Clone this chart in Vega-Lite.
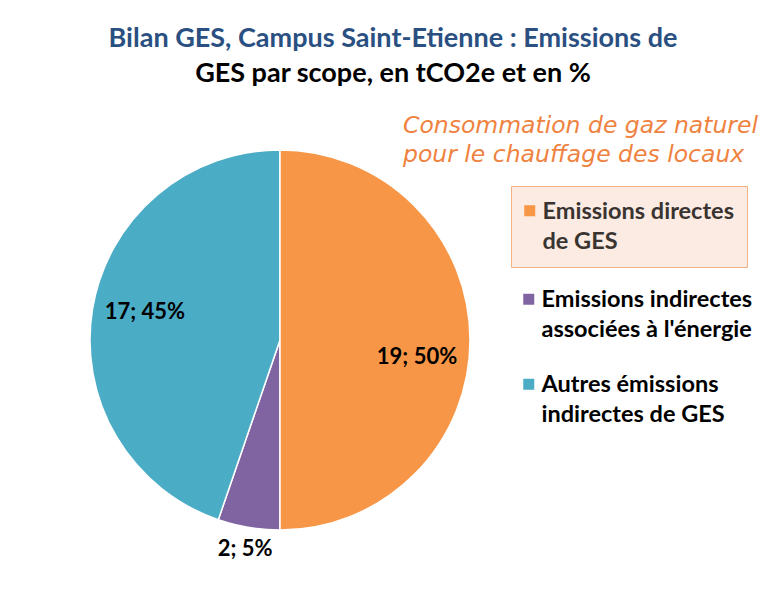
{
  "$schema": "https://vega.github.io/schema/vega-lite/v6.json",
  "width": 380,
  "height": 380,
  "autosize": {"type": "none"},
  "padding": {"left": 90, "top": 150, "right": 305, "bottom": 78},
  "background": "white",
  "title": {
    "text": "Bilan GES, Campus Saint-Etienne : Emissions de",
    "subtitle": "GES par scope, en tCO2e et en %",
    "font": "Lato",
    "fontSize": 27,
    "fontWeight": "bold",
    "color": "#2A5082",
    "subtitleFont": "Lato",
    "subtitleFontSize": 27,
    "subtitleFontWeight": "bold",
    "subtitleColor": "#000000",
    "subtitlePadding": 8,
    "anchor": "middle",
    "dx": 113,
    "offset": 26
  },
  "data": {
    "values": [
      {"scope": "Emissions directes de GES", "value": 19, "label": "19; 50%", "idx": 1},
      {"scope": "Emissions indirectes associées à l'énergie", "value": 2, "label": "2; 5%", "idx": 2},
      {"scope": "Autres émissions indirectes de GES", "value": 17, "label": "17; 45%", "idx": 3}
    ]
  },
  "layer": [
    {
      "mark": {"type": "arc", "stroke": "white", "strokeWidth": 1.5},
      "encoding": {
        "theta": {"field": "value", "type": "quantitative", "stack": true},
        "order": {"field": "idx", "type": "quantitative"},
        "color": {
          "field": "scope",
          "type": "nominal",
          "scale": {
            "domain": ["Emissions directes de GES", "Emissions indirectes associées à l'énergie", "Autres émissions indirectes de GES"],
            "range": ["#F79646", "#8064A2", "#4BACC6"]
          },
          "legend": {
            "values": ["Emissions indirectes associées à l'énergie", "Autres émissions indirectes de GES"],
            "orient": "none",
            "legendX": 313,
            "legendY": -36,
            "title": ["Consommation de gaz naturel", "pour le chauffage des locaux"],
            "titleFont": "DejaVu Sans",
            "titleFontStyle": "italic",
            "titleFontWeight": 200,
            "titleFontSize": 23.5,
            "titleColor": "#EF8240",
            "titleLineHeight": 29,
            "titleLimit": 500,
            "titlePadding": 121,
            "symbolType": "square",
            "symbolSize": 121,
            "symbolStrokeWidth": 0,
            "symbolOpacity": 1,
            "symbolOffset": 114,
            "labelFont": "Lato",
            "labelFontSize": 23.5,
            "labelFontWeight": "bold",
            "labelColor": "#000000",
            "labelLimit": 400,
            "labelOffset": 1,
            "labelBaseline": "alphabetic",
            "rowPadding": 30,
            "labelExpr": "datum.label == 'Autres émissions indirectes de GES' ? ['Autres émissions', 'indirectes de GES'] : [\"Emissions indirectes\", \"associées à l'énergie\"]",
            "encoding": {"labels": {"dy": {"value": 8}}}
          }
        }
      }
    },
    {
      "transform": [{"filter": "datum.idx == 1"}],
      "mark": {"type": "arc", "stroke": "white", "strokeWidth": 1.5},
      "encoding": {
        "theta": {"field": "value", "type": "quantitative", "stack": true},
        "order": {"field": "idx", "type": "quantitative"},
        "color": {
          "field": "scope",
          "type": "nominal",
          "scale": {"domain": ["Emissions directes de GES"], "range": ["#F79646"]},
          "legend": {
            "orient": "none",
            "legendX": 421,
            "legendY": 36,
            "title": null,
            "fillColor": "#FBEBE2",
            "strokeColor": "#F4B183",
            "padding": 13,
            "cornerRadius": 0,
            "zindex": 2,
            "symbolType": "square",
            "symbolSize": 121,
            "symbolStrokeWidth": 0,
            "symbolOpacity": 1,
            "symbolOffset": -6,
            "labelFont": "Lato",
            "labelFontSize": 23.5,
            "labelFontWeight": "bold",
            "labelColor": "#3A3431",
            "labelLimit": 400,
            "labelOffset": 1,
            "labelBaseline": "alphabetic",
            "labelExpr": "['Emissions directes', 'de GES']",
            "encoding": {"labels": {"dy": {"value": 8}}}
          }
        }
      }
    },
    {
      "mark": {"type": "text", "font": "Lato", "fontSize": 22, "fontWeight": "bold", "color": "#000000", "radius": 137, "dy": 17},
      "encoding": {
        "theta": {"field": "value", "type": "quantitative", "stack": true},
        "order": {"field": "idx", "type": "quantitative"},
        "detail": {"field": "scope", "type": "nominal"},
        "text": {"condition": {"test": "datum.idx != 1", "value": ""}, "field": "label", "type": "nominal"}
      }
    },
    {
      "mark": {"type": "text", "font": "Lato", "fontSize": 22, "fontWeight": "bold", "color": "#000000", "radius": 212},
      "encoding": {
        "theta": {"field": "value", "type": "quantitative", "stack": true},
        "order": {"field": "idx", "type": "quantitative"},
        "detail": {"field": "scope", "type": "nominal"},
        "text": {"condition": {"test": "datum.idx != 2", "value": ""}, "field": "label", "type": "nominal"}
      }
    },
    {
      "mark": {"type": "text", "font": "Lato", "fontSize": 22, "fontWeight": "bold", "color": "#000000", "radius": 137, "dy": -5},
      "encoding": {
        "theta": {"field": "value", "type": "quantitative", "stack": true},
        "order": {"field": "idx", "type": "quantitative"},
        "detail": {"field": "scope", "type": "nominal"},
        "text": {"condition": {"test": "datum.idx != 3", "value": ""}, "field": "label", "type": "nominal"}
      }
    }
  ],
  "resolve": {"scale": {"color": "independent"}},
  "config": {
    "view": {"stroke": null},
    "style": {"guide-label": {"lineHeight": 30}}
  }
}
